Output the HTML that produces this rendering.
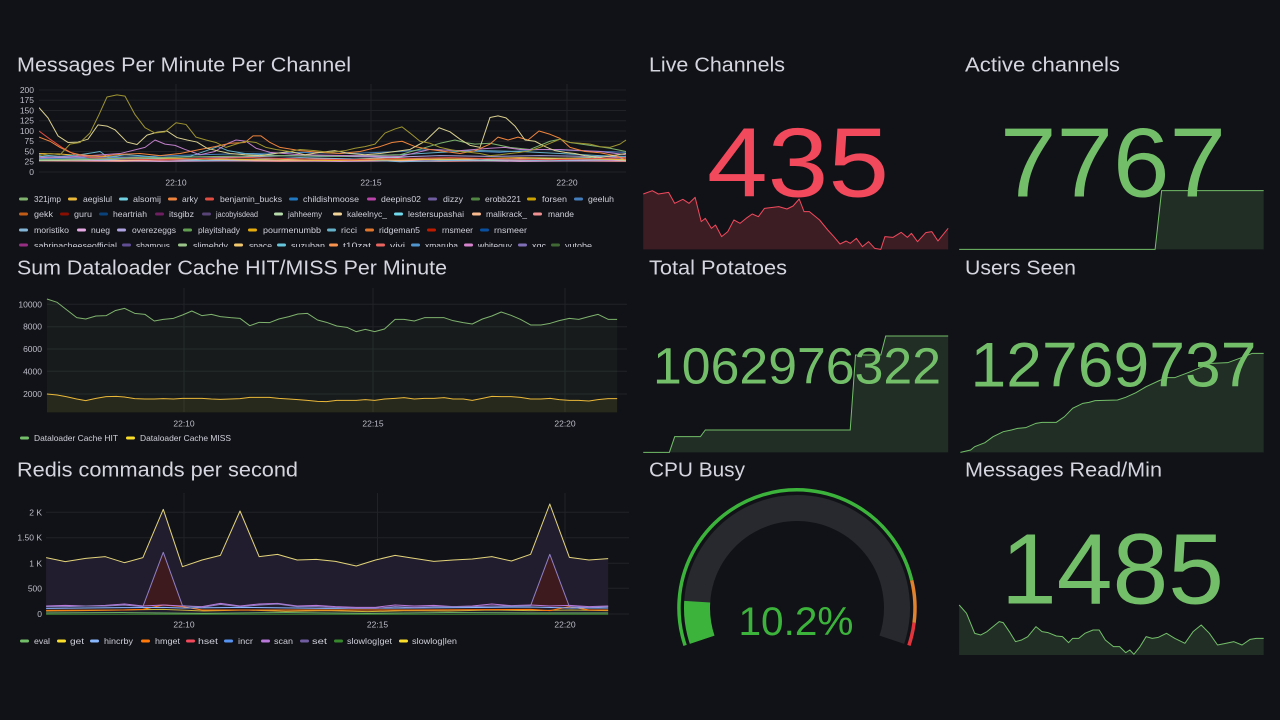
<!DOCTYPE html>
<html><head><meta charset="utf-8"><style>
html,body{margin:0;padding:0;background:#111217;}
svg{display:block}
text{font-family:"Liberation Sans",sans-serif}
.ns polyline,.ns polygon,.ns path{vector-effect:non-scaling-stroke}
</style></head><body>
<svg width="1280" height="720" viewBox="0 0 1280 720" xmlns="http://www.w3.org/2000/svg">
<defs>
<clipPath id="c1"><rect x="39" y="80" width="588" height="94"/></clipPath>
<clipPath id="cl"><rect x="0" y="190" width="640" height="57"/></clipPath>
</defs>
<rect width="1280" height="720" fill="#111217"/>

<!-- Titles -->
<g font-size="20" fill="#d4d5de">
<text x="17" y="71.7" textLength="334" lengthAdjust="spacingAndGlyphs">Messages Per Minute Per Channel</text>
<text x="17" y="274.3" textLength="430" lengthAdjust="spacingAndGlyphs">Sum Dataloader Cache HIT/MISS Per Minute</text>
<text x="17" y="476.7" textLength="281" lengthAdjust="spacingAndGlyphs">Redis commands per second</text>
<text x="649" y="71.7" textLength="136" lengthAdjust="spacingAndGlyphs">Live Channels</text>
<text x="965" y="71.7" textLength="155" lengthAdjust="spacingAndGlyphs">Active channels</text>
<text x="649" y="274.3" textLength="138" lengthAdjust="spacingAndGlyphs">Total Potatoes</text>
<text x="965" y="274.3" textLength="111" lengthAdjust="spacingAndGlyphs">Users Seen</text>
<text x="649" y="476.7" textLength="96" lengthAdjust="spacingAndGlyphs">CPU Busy</text>
<text x="965" y="476.7" textLength="197" lengthAdjust="spacingAndGlyphs">Messages Read/Min</text>
</g>

<!-- ===== Panel 1 ===== -->
<path d="M39 90H626M39 100.25H626M39 110.5H626M39 120.75H626M39 131H626M39 141.25H626M39 151.5H626M39 161.75H626M39 172H626M176 84V172M371 84V172M567 84V172" stroke="#202228" stroke-width="1" fill="none"/>
<g font-size="8.5" fill="#bdbdc8" text-anchor="end">
<text x="34" y="92.9">200</text><text x="34" y="103.15">175</text><text x="34" y="113.4">150</text><text x="34" y="123.65">125</text><text x="34" y="133.9">100</text><text x="34" y="144.15">75</text><text x="34" y="154.4">50</text><text x="34" y="164.65">25</text><text x="34" y="174.9">0</text>
</g>
<g font-size="8.5" fill="#bdbdc8" text-anchor="middle">
<text x="176" y="185.7">22:10</text><text x="371" y="185.7">22:15</text><text x="567" y="185.7">22:20</text>
</g>
<g clip-path="url(#c1)">
<g class="ns" transform="translate(0 172) scale(1 -0.41)" fill="none" stroke-width="1" stroke-linejoin="round">
<polyline stroke="#F29191" points="39,27 120,26 200,28 280,26 360,27 440,26 520,28 626,26"/>
<polyline stroke="#E5A8E2" points="39,30 100,28 160,26 220,27 280,28 340,26 400,27 460,28 520,26 580,27 626,28"/>
<polyline stroke="#F9BA8F" points="39,30 80,32 120,28 160,30 200,32 240,28 280,30 320,33 360,30 400,28 440,32 480,30 520,33 560,30 600,32 626,30"/>
<polyline stroke="#B7DBAB" points="39,28 90,30 140,33 190,30 240,35 290,32 340,30 390,35 440,30 490,28 540,32 590,35 626,28"/>
<polyline stroke="#82B5D8" points="39,38 70,35 100,30 150,32 200,28 250,30 300,35 350,32 400,25 450,28 500,30 550,28 600,30 626,32"/>
<polyline stroke="#AEA2E0" points="39,33 90,36 140,34 190,37 240,36 290,40 340,38 390,36 440,40 490,38 540,40 590,38 626,36"/>
<polyline stroke="#EAB839" points="39,45 60,44 80,40 100,38 140,35 200,32 260,30 330,28 400,30 460,32 520,35 580,33 626,30"/>
<polyline stroke="#447EBC" points="39,32 100,35 150,38 200,42 250,45 300,48 350,45 400,50 430,55 460,52 500,48 540,55 580,52 626,48"/>
<polyline stroke="#E24D42" points="39,100 50,80 62,60 75,42 90,35 120,32 160,30 200,33 250,35 300,32 350,30 400,33 450,35 500,32 550,30 600,33 626,35"/>
<polyline stroke="#64B0C8" points="39,42 60,38 80,42 95,48 100,50 108,36 125,42 140,40 160,35 190,38 210,55 218,62 228,52 245,45 280,40 320,38 360,40 400,42 440,48 480,52 520,50 560,45 600,40 626,38"/>
<polyline stroke="#7EB26D" points="39,30 100,32 160,35 220,38 280,40 340,38 400,42 440,70 455,78 465,72 475,68 490,70 510,60 530,55 550,75 560,80 570,72 590,65 610,58 626,50"/>
<polyline stroke="#c07fc9" points="39,35 80,38 120,45 145,60 155,78 165,68 175,65 185,55 200,42 215,50 228,70 236,78 246,75 256,58 270,48 300,42 350,40 400,38 430,55 460,52 490,58 505,60 520,55 560,55 600,50 626,42"/>
<polyline stroke="#EF843C" points="39,85 50,75 60,60 70,48 80,42 100,38 120,43 140,45 160,40 180,45 200,55 215,62 230,70 245,72 253,88 261,88 270,72 280,60 300,52 320,48 340,45 360,50 380,62 392,72 402,75 415,62 430,55 445,50 460,45 475,52 490,68 498,85 508,78 518,85 528,78 539,100 550,92 560,82 570,60 585,50 600,47 615,40 626,30"/>
<polyline stroke="#d8cf8e" points="39,157 48,132 58,88 68,72 78,73 88,80 98,115 107,112 115,103 127,73 137,67 147,90 157,97 167,100 177,84 187,78 197,73 207,58 217,52 230,45 245,42 260,40 275,45 290,50 305,42 320,48 335,52 350,45 365,42 380,45 395,50 410,55 425,75 439,108 450,98 460,80 470,65 480,60 490,133 498,137 506,132 515,112 525,78 535,75 545,62 555,52 565,48 575,45 585,40 600,35 612,40 626,45"/>
<polyline stroke="#9e9430" points="39,40 50,45 60,42 70,68 80,72 90,95 99,140 107,183 117,188 125,185 135,140 145,108 155,95 165,98 176,120 186,116 196,85 206,78 216,72 226,60 236,68 246,75 256,72 266,60 276,55 290,50 300,55 315,52 330,48 345,52 355,58 365,62 375,68 385,95 395,105 402,110 410,95 420,75 430,70 440,60 450,55 460,50 470,48 480,45 490,40 500,42 510,45 520,48 530,52 540,60 550,70 560,80 570,72 580,70 590,68 600,62 610,60 620,68 626,78"/>
</g>
</g>
<!-- Legend panel 1 -->
<g clip-path="url(#cl)" font-size="8.5" fill="#cfd0da">
<g>
<rect x="19" y="197.5" width="9" height="3" rx="1.5" fill="#7EB26D"/><text x="34" y="202" textLength="27" lengthAdjust="spacingAndGlyphs">321jmp</text>
<rect x="68" y="197.5" width="9" height="3" rx="1.5" fill="#EAB839"/><text x="83" y="202" textLength="29" lengthAdjust="spacingAndGlyphs">aegislul</text>
<rect x="119" y="197.5" width="9" height="3" rx="1.5" fill="#6ED0E0"/><text x="133" y="202" textLength="28" lengthAdjust="spacingAndGlyphs">alsomij</text>
<rect x="168" y="197.5" width="9" height="3" rx="1.5" fill="#EF843C"/><text x="182" y="202" textLength="16" lengthAdjust="spacingAndGlyphs">arky</text>
<rect x="205" y="197.5" width="9" height="3" rx="1.5" fill="#E24D42"/><text x="220" y="202" textLength="62" lengthAdjust="spacingAndGlyphs">benjamin_bucks</text>
<rect x="289" y="197.5" width="9" height="3" rx="1.5" fill="#1F78C1"/><text x="303" y="202" textLength="56" lengthAdjust="spacingAndGlyphs">childishmoose</text>
<rect x="367" y="197.5" width="9" height="3" rx="1.5" fill="#BA43A9"/><text x="381" y="202" textLength="40" lengthAdjust="spacingAndGlyphs">deepins02</text>
<rect x="428" y="197.5" width="9" height="3" rx="1.5" fill="#705DA0"/><text x="443" y="202" textLength="20" lengthAdjust="spacingAndGlyphs">dizzy</text>
<rect x="471" y="197.5" width="9" height="3" rx="1.5" fill="#508642"/><text x="485" y="202" textLength="36" lengthAdjust="spacingAndGlyphs">erobb221</text>
<rect x="527" y="197.5" width="9" height="3" rx="1.5" fill="#CCA300"/><text x="542" y="202" textLength="25" lengthAdjust="spacingAndGlyphs">forsen</text>
<rect x="574" y="197.5" width="9" height="3" rx="1.5" fill="#447EBC"/><text x="588" y="202" textLength="26" lengthAdjust="spacingAndGlyphs">geeluh</text>
</g>
<g>
<rect x="19" y="212.5" width="9" height="3" rx="1.5" fill="#C15C17"/><text x="34" y="217" textLength="19" lengthAdjust="spacingAndGlyphs">gekk</text>
<rect x="60" y="212.5" width="9" height="3" rx="1.5" fill="#890F02"/><text x="74" y="217" textLength="18" lengthAdjust="spacingAndGlyphs">guru</text>
<rect x="99" y="212.5" width="9" height="3" rx="1.5" fill="#0A437C"/><text x="113" y="217" textLength="34" lengthAdjust="spacingAndGlyphs">heartriah</text>
<rect x="155" y="212.5" width="9" height="3" rx="1.5" fill="#6D1F62"/><text x="169" y="217" textLength="25" lengthAdjust="spacingAndGlyphs">itsgibz</text>
<rect x="202" y="212.5" width="9" height="3" rx="1.5" fill="#584477"/><text x="216" y="217" textLength="42" lengthAdjust="spacingAndGlyphs">jacobyisdead</text>
<rect x="274" y="212.5" width="9" height="3" rx="1.5" fill="#B7DBAB"/><text x="288" y="217" textLength="34" lengthAdjust="spacingAndGlyphs">jahheemy</text>
<rect x="333" y="212.5" width="9" height="3" rx="1.5" fill="#F4D598"/><text x="347" y="217" textLength="40" lengthAdjust="spacingAndGlyphs">kaleelnyc_</text>
<rect x="394" y="212.5" width="9" height="3" rx="1.5" fill="#70DBED"/><text x="408" y="217" textLength="56" lengthAdjust="spacingAndGlyphs">lestersupashai</text>
<rect x="472" y="212.5" width="9" height="3" rx="1.5" fill="#F9BA8F"/><text x="486" y="217" textLength="41" lengthAdjust="spacingAndGlyphs">malikrack_</text>
<rect x="533" y="212.5" width="9" height="3" rx="1.5" fill="#F29191"/><text x="548" y="217" textLength="26" lengthAdjust="spacingAndGlyphs">mande</text>
</g>
<g>
<rect x="19" y="228.5" width="9" height="3" rx="1.5" fill="#82B5D8"/><text x="34" y="233" textLength="35" lengthAdjust="spacingAndGlyphs">moristiko</text>
<rect x="77" y="228.5" width="9" height="3" rx="1.5" fill="#E5A8E2"/><text x="91" y="233" textLength="19" lengthAdjust="spacingAndGlyphs">nueg</text>
<rect x="117" y="228.5" width="9" height="3" rx="1.5" fill="#AEA2E0"/><text x="132" y="233" textLength="44" lengthAdjust="spacingAndGlyphs">overezeggs</text>
<rect x="183" y="228.5" width="9" height="3" rx="1.5" fill="#629E51"/><text x="198" y="233" textLength="42" lengthAdjust="spacingAndGlyphs">playitshady</text>
<rect x="248" y="228.5" width="9" height="3" rx="1.5" fill="#E5AC0E"/><text x="263" y="233" textLength="58" lengthAdjust="spacingAndGlyphs">pourmenumbb</text>
<rect x="327" y="228.5" width="9" height="3" rx="1.5" fill="#64B0C8"/><text x="341" y="233" textLength="16" lengthAdjust="spacingAndGlyphs">ricci</text>
<rect x="365" y="228.5" width="9" height="3" rx="1.5" fill="#E0752D"/><text x="379" y="233" textLength="41" lengthAdjust="spacingAndGlyphs">ridgeman5</text>
<rect x="427" y="228.5" width="9" height="3" rx="1.5" fill="#BF1B00"/><text x="442" y="233" textLength="31" lengthAdjust="spacingAndGlyphs">rnsmeer</text>
<rect x="480" y="228.5" width="9" height="3" rx="1.5" fill="#0A50A1"/><text x="494" y="233" textLength="33" lengthAdjust="spacingAndGlyphs">rnsmeer</text>
</g>
<g>
<rect x="19" y="243.5" width="9" height="3" rx="1.5" fill="#962D82"/><text x="34" y="248.5" textLength="83" lengthAdjust="spacingAndGlyphs">sabrinacheeseofficial</text>
<rect x="122" y="243.5" width="9" height="3" rx="1.5" fill="#614D93"/><text x="136" y="248.5" textLength="34" lengthAdjust="spacingAndGlyphs">shamous</text>
<rect x="178" y="243.5" width="9" height="3" rx="1.5" fill="#9AC48A"/><text x="193" y="248.5" textLength="35" lengthAdjust="spacingAndGlyphs">slimebdy</text>
<rect x="234" y="243.5" width="9" height="3" rx="1.5" fill="#F2C96D"/><text x="249" y="248.5" textLength="23" lengthAdjust="spacingAndGlyphs">space</text>
<rect x="277" y="243.5" width="9" height="3" rx="1.5" fill="#65C5DB"/><text x="291" y="248.5" textLength="34" lengthAdjust="spacingAndGlyphs">suzuban</text>
<rect x="329" y="243.5" width="9" height="3" rx="1.5" fill="#F9934E"/><text x="343" y="248.5" textLength="28" lengthAdjust="spacingAndGlyphs">t10zat</text>
<rect x="376" y="243.5" width="9" height="3" rx="1.5" fill="#EA6460"/><text x="390" y="248.5" textLength="15" lengthAdjust="spacingAndGlyphs">vivi</text>
<rect x="411" y="243.5" width="9" height="3" rx="1.5" fill="#5195CE"/><text x="425" y="248.5" textLength="33" lengthAdjust="spacingAndGlyphs">xmaruba</text>
<rect x="464" y="243.5" width="9" height="3" rx="1.5" fill="#D683CE"/><text x="478" y="248.5" textLength="34" lengthAdjust="spacingAndGlyphs">whiteguy</text>
<rect x="518" y="243.5" width="9" height="3" rx="1.5" fill="#806EB7"/><text x="532" y="248.5" textLength="14" lengthAdjust="spacingAndGlyphs">xqc</text>
<rect x="551" y="243.5" width="9" height="3" rx="1.5" fill="#3F6833"/><text x="565" y="248.5" textLength="27" lengthAdjust="spacingAndGlyphs">yutobe</text>
</g>
</g>

<!-- ===== Panel 2 ===== -->
<path d="M47 304.3H627M47 326.7H627M47 349H627M47 371.3H627M47 394H627M184 288V412M373 288V412M565 288V412" stroke="#202228" stroke-width="1" fill="none"/>
<g font-size="8.5" fill="#bdbdc8" text-anchor="end">
<text x="42" y="307.3">10000</text><text x="42" y="329.7">8000</text><text x="42" y="352">6000</text><text x="42" y="374.3">4000</text><text x="42" y="397">2000</text>
</g>
<g font-size="8.5" fill="#bdbdc8" text-anchor="middle">
<text x="184" y="426.7">22:10</text><text x="373" y="426.7">22:15</text><text x="565" y="426.7">22:20</text>
</g>
<g class="ns" transform="translate(0 250) scale(0.40816 0.33333)" stroke-linejoin="round">
<polygon fill="#73BF69" fill-opacity="0.06" stroke="none" points="115,147 140,157 162,178 188,203 210,207 235,198 260,197 282,182 305,175 330,190 355,193 378,213 400,208 425,205 447,195 470,183 495,197 518,193 540,200 565,203 588,205 612,227 635,217 660,218 683,207 708,200 730,192 753,190 778,210 800,217 825,228 850,232 873,245 895,238 918,245 942,237 968,208 990,208 1015,213 1040,203 1063,203 1088,203 1110,212 1135,218 1157,222 1182,207 1205,198 1228,186 1252,196 1275,208 1300,225 1325,225 1348,220 1370,212 1395,205 1418,208 1443,200 1465,193 1490,208 1512,208 1512,487 115,487"/>
<polygon fill="#FADE2A" fill-opacity="0.07" stroke="none" points="115,432 140,435 162,440 188,447 210,452 235,445 260,440 285,439 305,441 330,446 355,447 378,447 400,446 425,447 447,445 470,445 495,445 518,447 540,448 565,447 588,446 612,442 635,442 660,442 683,445 708,447 730,449 753,451 778,454 800,455 825,451 850,451 873,451 895,449 918,451 942,447 968,445 990,443 1015,447 1040,445 1063,445 1088,443 1110,447 1135,447 1157,451 1182,445 1205,439 1228,440 1252,440 1275,442 1300,447 1325,447 1348,445 1370,449 1395,451 1418,451 1443,453 1465,449 1490,446 1512,446 1512,487 115,487"/>
<polyline fill="none" stroke="#7EB26D" stroke-width="1" points="115,147 140,157 162,178 188,203 210,207 235,198 260,197 282,182 305,175 330,190 355,193 378,213 400,208 425,205 447,195 470,183 495,197 518,193 540,200 565,203 588,205 612,227 635,217 660,218 683,207 708,200 730,192 753,190 778,210 800,217 825,228 850,232 873,245 895,238 918,245 942,237 968,208 990,208 1015,213 1040,203 1063,203 1088,203 1110,212 1135,218 1157,222 1182,207 1205,198 1228,186 1252,196 1275,208 1300,225 1325,225 1348,220 1370,212 1395,205 1418,208 1443,200 1465,193 1490,208 1512,208"/>
<polyline fill="none" stroke="#EAB839" stroke-width="1" points="115,432 140,435 162,440 188,447 210,452 235,445 260,440 285,439 305,441 330,446 355,447 378,447 400,446 425,447 447,445 470,445 495,445 518,447 540,448 565,447 588,446 612,442 635,442 660,442 683,445 708,447 730,449 753,451 778,454 800,455 825,451 850,451 873,451 895,449 918,451 942,447 968,445 990,443 1015,447 1040,445 1063,445 1088,443 1110,447 1135,447 1157,451 1182,445 1205,439 1228,440 1252,440 1275,442 1300,447 1325,447 1348,445 1370,449 1395,451 1418,451 1443,453 1465,449 1490,446 1512,446"/>
</g>
<g font-size="8.5" fill="#cfd0da">
<rect x="20" y="436.5" width="9" height="3" rx="1.5" fill="#73BF69"/><text x="34" y="441" textLength="84" lengthAdjust="spacingAndGlyphs">Dataloader Cache HIT</text>
<rect x="126" y="436.5" width="9" height="3" rx="1.5" fill="#FADE2A"/><text x="140" y="441" textLength="91" lengthAdjust="spacingAndGlyphs">Dataloader Cache MISS</text>
</g>

<!-- ===== Panel 3 ===== -->
<path d="M46 512.3H629M46 537.7H629M46 563.3H629M46 588.3H629M46 614H629M184 493V614M377.5 493V614M565 493V614" stroke="#202228" stroke-width="1" fill="none"/>
<g font-size="8.5" fill="#bdbdc8" text-anchor="end">
<text x="42" y="515.3">2 K</text><text x="42" y="540.7">1.50 K</text><text x="42" y="566.3">1 K</text><text x="42" y="591.3">500</text><text x="42" y="617">0</text>
</g>
<g font-size="8.5" fill="#bdbdc8" text-anchor="middle">
<text x="184" y="627.7">22:10</text><text x="377.5" y="627.7">22:15</text><text x="565" y="627.7">22:20</text>
</g>
<g class="ns" transform="translate(0 450) scale(0.40816 0.33333)" stroke-linejoin="round">
<polygon fill="#221d2e" stroke="none" points="113,323 160,335 210,325 258,320 305,338 350,323 400,178 447,350 495,330 540,316 588,183 635,320 680,313 728,330 775,328 822,334 873,348 920,330 968,316 1015,325 1063,334 1110,330 1157,327 1205,320 1253,333 1300,313 1347,162 1395,322 1443,330 1490,326 1490,492 113,492"/>
<polygon fill="#3d1a1e" stroke="none" points="350,472 400,307 447,469"/>
<polygon fill="#3d1a1e" stroke="none" points="1300,469 1347,313 1395,472"/>
<polyline fill="none" stroke="#3a7a30" stroke-width="1" points="113,493 1490,493"/>
<polyline fill="none" stroke="#73BF69" stroke-width="1" points="113,489 300,488 500,490 700,488 900,490 1100,488 1300,489 1490,489"/>
<polyline fill="none" stroke="#c9b43a" stroke-width="1" points="113,483 200,482 300,480 400,478 500,483 600,480 700,484 800,482 900,485 1000,482 1100,483 1200,480 1300,482 1400,480 1490,482"/>
<polyline fill="none" stroke="#FF780A" stroke-width="1" points="113,481 300,480 350,478 400,465 447,470 495,480 700,480 1000,480 1300,478 1347,482 1395,470 1443,480 1490,480"/>
<polyline fill="none" stroke="#8AB8FF" stroke-width="1" points="113,475 300,473 400,472 447,474 600,472 800,475 1000,474 1200,472 1300,471 1400,474 1490,474"/>
<polyline fill="none" stroke="#B877D9" stroke-width="1" points="113,468 160,466 210,468 258,466 305,462 350,468 400,465 447,468 495,470 540,460 588,468 635,462 680,460 728,468 775,466 822,470 873,472 920,472 968,465 1015,468 1063,466 1110,470 1157,468 1205,462 1253,467 1300,465 1347,468 1395,466 1443,470 1490,468"/>
<polyline fill="none" stroke="#8f7fc4" stroke-width="1" points="113,470 160,470 210,468 258,468 305,465 350,470 400,307 447,467 495,472 540,463 588,470 635,465 680,462 728,470 775,470 822,472 873,475 920,475 968,470 1015,472 1063,470 1110,470 1157,470 1205,468 1253,468 1300,467 1347,313 1395,470 1443,472 1490,470"/>
<polyline fill="none" stroke="#e3d47a" stroke-width="1" points="113,323 160,335 210,325 258,320 305,338 350,323 400,178 447,350 495,330 540,316 588,183 635,320 680,313 728,330 775,328 822,334 873,348 920,330 968,316 1015,325 1063,334 1110,330 1157,327 1205,320 1253,333 1300,313 1347,162 1395,322 1443,330 1490,326"/>
</g>
<g font-size="8.5" fill="#cfd0da">
<rect x="20" y="639.5" width="9" height="3" rx="1.5" fill="#73BF69"/><text x="34" y="644" textLength="16" lengthAdjust="spacingAndGlyphs">eval</text>
<rect x="57" y="639.5" width="9" height="3" rx="1.5" fill="#FADE2A"/><text x="70" y="644" textLength="14" lengthAdjust="spacingAndGlyphs">get</text>
<rect x="90" y="639.5" width="9" height="3" rx="1.5" fill="#8AB8FF"/><text x="104" y="644" textLength="29" lengthAdjust="spacingAndGlyphs">hincrby</text>
<rect x="141" y="639.5" width="9" height="3" rx="1.5" fill="#FF780A"/><text x="155" y="644" textLength="25" lengthAdjust="spacingAndGlyphs">hmget</text>
<rect x="186" y="639.5" width="9" height="3" rx="1.5" fill="#F2495C"/><text x="198" y="644" textLength="20" lengthAdjust="spacingAndGlyphs">hset</text>
<rect x="224" y="639.5" width="9" height="3" rx="1.5" fill="#5794F2"/><text x="238" y="644" textLength="15" lengthAdjust="spacingAndGlyphs">incr</text>
<rect x="261" y="639.5" width="9" height="3" rx="1.5" fill="#B877D9"/><text x="274" y="644" textLength="19" lengthAdjust="spacingAndGlyphs">scan</text>
<rect x="300" y="639.5" width="9" height="3" rx="1.5" fill="#705DA0"/><text x="312" y="644" textLength="15" lengthAdjust="spacingAndGlyphs">set</text>
<rect x="334" y="639.5" width="9" height="3" rx="1.5" fill="#37872D"/><text x="347" y="644" textLength="45" lengthAdjust="spacingAndGlyphs">slowlog|get</text>
<rect x="399" y="639.5" width="9" height="3" rx="1.5" fill="#FADE2A"/><text x="412" y="644" textLength="45" lengthAdjust="spacingAndGlyphs">slowlog|len</text>
</g>

<!-- ===== Live Channels ===== -->
<g class="ns" transform="translate(640 40) scale(0.40816 0.33333)" stroke-linejoin="round">
<polygon fill="#F2495C" fill-opacity="0.2" stroke="none" points="8,462 30,452 45,462 70,457 85,490 105,478 120,490 135,472 150,545 160,535 175,565 185,555 200,590 215,575 230,540 245,550 260,535 275,522 290,530 305,505 320,503 340,500 360,507 375,498 390,477 402,515 415,515 440,540 460,570 475,590 490,612 505,603 515,610 530,595 545,620 560,605 575,625 590,628 600,590 620,592 640,577 655,592 665,580 680,605 700,578 715,575 730,603 755,565 755,628 8,628"/>
<polyline fill="none" stroke="#F2495C" stroke-width="1" points="8,462 30,452 45,462 70,457 85,490 105,478 120,490 135,472 150,545 160,535 175,565 185,555 200,590 215,575 230,540 245,550 260,535 275,522 290,530 305,505 320,503 340,500 360,507 375,498 390,477 402,515 415,515 440,540 460,570 475,590 490,612 505,603 515,610 530,595 545,620 560,605 575,625 590,628 600,590 620,592 640,577 655,592 665,580 680,605 700,578 715,575 730,603 755,565"/>
</g>
<text x="798" y="196.7" font-size="98" fill="#F2495C" text-anchor="middle" textLength="182" lengthAdjust="spacingAndGlyphs">435</text>

<!-- ===== Active channels ===== -->
<g class="ns" transform="translate(640 40) scale(0.40816 0.33333)">
<polygon fill="#73BF69" fill-opacity="0.17" stroke="none" points="782,628 1262,628 1278,452 1528,452 1528,628"/>
<polyline fill="none" stroke="#73BF69" stroke-width="1" points="782,628 1262,628 1278,452 1528,452"/>
</g>
<text x="1113" y="196.7" font-size="98" fill="#73BF69" text-anchor="middle" textLength="226" lengthAdjust="spacingAndGlyphs">7767</text>

<!-- ===== Total Potatoes ===== -->
<g class="ns" transform="translate(640 250) scale(0.40816 0.33333)">
<polygon fill="#73BF69" fill-opacity="0.17" stroke="none" points="8,607 72,607 85,560 148,560 160,540 515,540 528,315 590,315 602,258 755,258 755,607"/>
<polyline fill="none" stroke="#73BF69" stroke-width="1" points="8,607 72,607 85,560 148,560 160,540 515,540 528,315 590,315 602,258 755,258"/>
</g>
<text x="797" y="383.3" font-size="51" fill="#73BF69" text-anchor="middle" textLength="288" lengthAdjust="spacingAndGlyphs">1062976322</text>

<!-- ===== Users Seen ===== -->
<g class="ns" transform="translate(640 250) scale(0.40816 0.33333)">
<polygon fill="#73BF69" fill-opacity="0.17" stroke="none" points="785,607 810,600 820,590 845,578 865,560 890,545 910,540 925,535 945,533 970,520 985,517 1020,517 1040,500 1060,475 1085,460 1100,457 1115,452 1170,450 1190,442 1215,428 1240,410 1270,393 1290,383 1310,383 1345,367 1375,352 1400,340 1440,338 1480,320 1500,310 1528,310 1528,607"/>
<polyline fill="none" stroke="#73BF69" stroke-width="1" points="785,607 810,600 820,590 845,578 865,560 890,545 910,540 925,535 945,533 970,520 985,517 1020,517 1040,500 1060,475 1085,460 1100,457 1115,452 1170,450 1190,442 1215,428 1240,410 1270,393 1290,383 1310,383 1345,367 1375,352 1400,340 1440,338 1480,320 1500,310 1528,310"/>
</g>
<text x="1113.5" y="386.7" font-size="63" fill="#73BF69" text-anchor="middle" textLength="286" lengthAdjust="spacingAndGlyphs">12769737</text>

<!-- ===== CPU Busy gauge ===== -->
<path d="M702.17 639.73 A100 100 0 1 1 891.83 639.73" fill="none" stroke="#27292e" stroke-width="26"/>
<path d="M702.17 639.73 A100 100 0 0 1 697.2 601.72" fill="none" stroke="#3cb43c" stroke-width="26"/>
<path d="M685.1 645.4 A118 118 0 1 1 911.7 580.3" fill="none" stroke="#3cb43c" stroke-width="3.5"/>
<path d="M911.7 580.3 A118 118 0 0 1 914.07 622.79" fill="none" stroke="#e0822e" stroke-width="3.5"/>
<path d="M914.07 622.79 A118 118 0 0 1 908.9 645.4" fill="none" stroke="#e2343c" stroke-width="3.5"/>
<text x="796" y="635" font-size="39.5" fill="#3cb43c" text-anchor="middle" textLength="115" lengthAdjust="spacingAndGlyphs">10.2%</text>

<!-- ===== Messages Read/Min ===== -->
<g class="ns" transform="translate(640 450) scale(0.40816 0.33333)" stroke-linejoin="round">
<polygon fill="#73BF69" fill-opacity="0.17" stroke="none" points="782,465 800,490 820,550 835,555 850,545 865,530 880,515 890,518 905,545 920,575 935,570 950,560 970,530 985,545 1000,548 1020,558 1035,560 1050,578 1060,565 1075,565 1090,550 1110,540 1125,540 1140,570 1160,590 1175,590 1190,608 1200,600 1210,613 1225,590 1240,560 1255,565 1270,562 1290,550 1310,565 1335,580 1355,545 1375,525 1395,550 1415,585 1435,580 1455,575 1475,585 1495,568 1510,565 1528,565 1528,615 782,615"/>
<polyline fill="none" stroke="#73BF69" stroke-width="1" points="782,465 800,490 820,550 835,555 850,545 865,530 880,515 890,518 905,545 920,575 935,570 950,560 970,530 985,545 1000,548 1020,558 1035,560 1050,578 1060,565 1075,565 1090,550 1110,540 1125,540 1140,570 1160,590 1175,590 1190,608 1200,600 1210,613 1225,590 1240,560 1255,565 1270,562 1290,550 1310,565 1335,580 1355,545 1375,525 1395,550 1415,585 1435,580 1455,575 1475,585 1495,568 1510,565 1528,565"/>
</g>
<text x="1112.5" y="603.3" font-size="100" fill="#73BF69" text-anchor="middle" textLength="223" lengthAdjust="spacingAndGlyphs">1485</text>

</svg>
</body></html>
